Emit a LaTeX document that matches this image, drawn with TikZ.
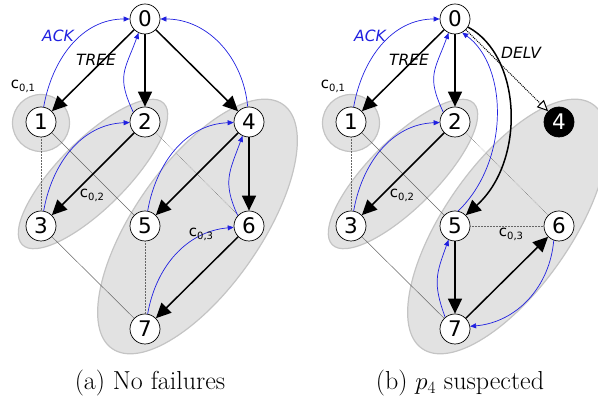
\documentclass[tikz,border=0pt]{standalone}
\usepackage{fontspec}
\newfontfamily\dv{DejaVu Sans}
\usetikzlibrary{arrows.meta,backgrounds}
\definecolor{clfill}{HTML}{E2E2E2}
\definecolor{cldraw}{HTML}{C4C4C4}
\definecolor{ackblue}{HTML}{2020E0}
\tikzset{
  proc/.style={circle, draw=black, line width=0.7pt, fill=white, minimum size=30pt, inner sep=0pt, font=\dv\fontsize{21.5}{21.5}\selectfont},
  failed/.style={proc, fill=black, text=white},
  cluster/.style={fill=clfill, draw=cldraw, line width=1.2pt},
  tree/.style={draw=black, line width=1.5pt, -{Triangle[length=15pt,width=14pt]}},
  ack/.style={draw=ackblue, line width=0.7pt, -{Triangle[length=6pt,width=5pt]}},
  link/.style={draw=black!60, line width=0.5pt},
  dlink/.style={link, densely dotted},
  delv/.style={draw=black, line width=1pt, densely dotted, -{Triangle[length=11pt,width=10pt,fill=white]}},
  lbl/.style={font=\dv\itshape\fontsize{15.5}{15.5}\selectfont, inner sep=0pt},
  clbl/.style={font=\dv\fontsize{15}{15}\selectfont, inner sep=0pt},
  captext/.style={font=\fontsize{26}{30}\selectfont, inner sep=0pt}
}
\newcommand{\clname}[1]{c\raisebox{-3pt}{\fontsize{10}{10}\selectfont #1}}
\begin{document}
\begin{tikzpicture}[x=1pt,y=1pt]
\useasboundingbox (0,0) rectangle (598,401);
% ---------- panel (a) ----------
\node[proc] (a0) at (145,382) {0};
\node[proc] (a1) at (41,279) {1};
\node[proc] (a2) at (145,279) {2};
\node[proc] (a4) at (249,279) {4};
\node[proc] (a3) at (41,175) {3};
\node[proc] (a5) at (145,175) {5};
\node[proc] (a6) at (249,175) {6};
\node[proc] (a7) at (145,72) {7};
% ---------- panel (b) ----------
\node[proc] (b0) at (455,382) {0};
\node[proc] (b1) at (351,279) {1};
\node[proc] (b2) at (455,279) {2};
\node[failed] (b4) at (559,279) {4};
\node[proc] (b3) at (351,175) {3};
\node[proc] (b5) at (455,175) {5};
\node[proc] (b6) at (559,175) {6};
\node[proc] (b7) at (455,72) {7};
\begin{pgfonlayer}{background}
  \foreach \dx in {0,310} {
    \path[cluster] (41+\dx,278) circle [radius=28.5pt];
    \path[cluster, shift={(93+\dx,227)}, rotate=45] (0,0) ellipse [x radius=100pt, y radius=34pt];
    \path[cluster, shift={(197.5+\dx,174.5)}, rotate=55] (0,0) ellipse [x radius=149pt, y radius=63pt];
  }
\end{pgfonlayer}
% links (a)
\draw[dlink] (a1) -- (a3);
\draw[link] (a1) -- (a5);
\draw[dlink] (a2) -- (a6);
\draw[link] (a3) -- (a7);
\draw[dlink] (a5) -- (a7);
% links (b)
\draw[dlink] (b1) -- (b3);
\draw[link] (b1) -- (b5);
\draw[dlink] (b2) -- (b6);
\draw[link] (b3) -- (b7);
\draw[dlink] (b5) -- (b6);
% tree (a)
\draw[tree] (a0) -- (a1);
\draw[tree] (a0) -- (a2);
\draw[tree] (a0) -- (a4);
\draw[tree] (a2) -- (a3);
\draw[tree] (a4) -- (a5);
\draw[tree] (a4) -- (a6);
\draw[tree] (a6) -- (a7);
% ack (a)
\draw[ack] (a1) to[out=80,in=180] (a0);
\draw[ack] (a2.140) to[out=115,in=250,looseness=1.3] (a0.245);
\draw[ack] (a4) to[out=95,in=0] (a0);
\draw[ack] (a3) to[out=80,in=182] (a2);
\draw[ack] (a5) to[out=80,in=182] (a4);
\draw[ack] (a6.137) to[out=115,in=250,looseness=1.2] (a4.245);
\draw[ack] (a7) to[out=80,in=185] (a6);
% tree (b)
\draw[tree] (b0) -- (b1);
\draw[tree] (b0) -- (b2);
\draw[tree] (b0.-32) .. controls (522,345) and (526,240) .. (b5.45);
\draw[tree] (b2) -- (b3);
\draw[tree] (b5) -- (b7);
\draw[tree] (b7) -- (b6);
\draw[delv] (b0) -- (b4);
% ack (b)
\draw[ack] (b1) to[out=80,in=180] (b0);
\draw[ack] (b2.140) to[out=115,in=250,looseness=1.3] (b0.245);
\draw[ack] (b5.78) .. controls (510,240) and (508,335) .. (b0.-62);
\draw[ack] (b3) to[out=80,in=182] (b2);
\draw[ack] (b7.130) to[out=110,in=250,looseness=1.2] (b5.245);
\draw[ack] (b6.250) to[out=-95,in=5] (b7.10);
% labels (a)
\node[lbl, text=ackblue] (ackA) at (58,365) {ACK};
\node[lbl] (treeA) at (96,341) {TREE};
\node[clbl] (c1A) at (23,315) {\clname{0,1}};
\node[clbl] (c2A) at (92,206) {\clname{0,2}};
\node[clbl] (c3A) at (201,167) {\clname{0,3}};
% labels (b)
\node[lbl, text=ackblue] (ackB) at (370,365) {ACK};
\node[lbl] (treeB) at (409,341) {TREE};
\node[lbl] (delvB) at (521,348) {DELV};
\node[clbl] (c1B) at (333,315) {\clname{0,1}};
\node[clbl] (c2B) at (402,206) {\clname{0,2}};
\node[clbl] (c3B) at (511,167) {\clname{0,3}};
% captions
\node[captext] (capA) at (150,18) {(a) No failures};
\node[captext] (capB) at (460,18) {(b) $p_4$ suspected};
\end{tikzpicture}
\end{document}
